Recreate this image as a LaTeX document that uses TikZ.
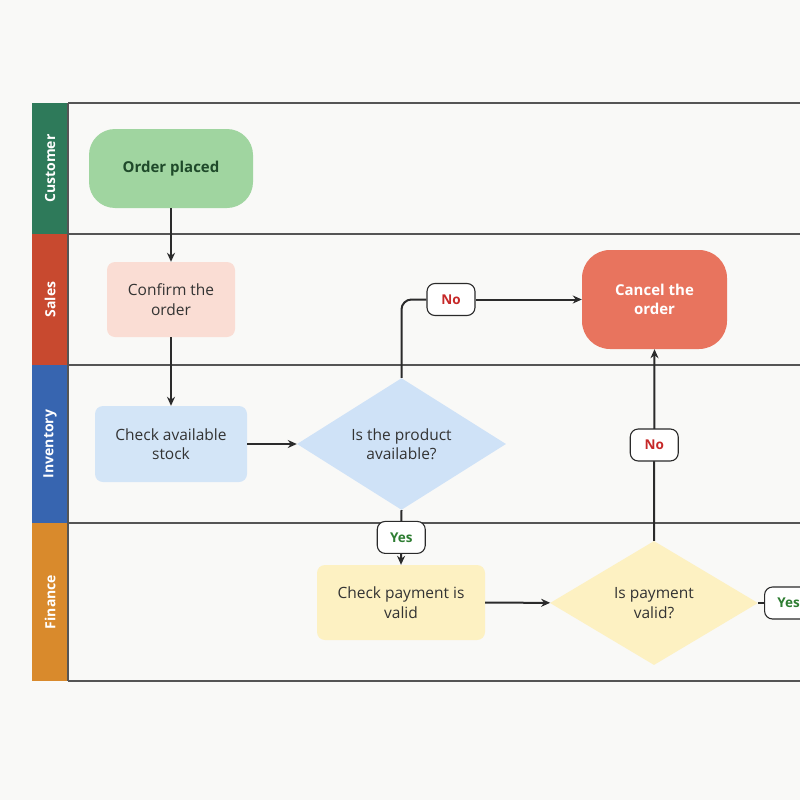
\documentclass[tikz,border=0pt]{standalone}
\usepackage{fontspec}
\setmainfont{Open Sans}
\usetikzlibrary{shapes.geometric,arrows.meta}
\definecolor{bg}{HTML}{F9F9F7}
\definecolor{custc}{HTML}{2E7A5A}
\definecolor{salesc}{HTML}{C8492F}
\definecolor{invc}{HTML}{3765B0}
\definecolor{finc}{HTML}{D98A2C}
\definecolor{greenfill}{HTML}{A0D5A0}
\definecolor{greentext}{HTML}{1F4A2A}
\definecolor{pinkfill}{HTML}{FADDD4}
\definecolor{bluefill}{HTML}{D3E5F7}
\definecolor{bluedia}{HTML}{CFE2F7}
\definecolor{cancelfill}{HTML}{E8745E}
\definecolor{yellowfill}{HTML}{FDF1C2}
\definecolor{textgray}{HTML}{333333}
\definecolor{linec}{HTML}{2B2B2B}
\definecolor{lanec}{HTML}{555555}
\definecolor{nored}{HTML}{C62828}
\definecolor{yesgreen}{HTML}{2E7D32}
\tikzset{
  proc/.style={rectangle, rounded corners=8pt, inner sep=0pt, align=center,
    text=textgray, font={\fontsize{15.5}{19.5}\selectfont}},
  term/.style={rectangle, inner sep=0pt, align=center,
    font={\bfseries\fontsize{15}{19.5}\selectfont}},
  decision/.style={diamond, inner sep=0pt, align=center, text=textgray,
    font={\fontsize{15.5}{19.5}\selectfont}},
  chip/.style={rectangle, rounded corners=8pt, draw=linec, line width=1.1pt,
    fill=white, minimum width=48pt, minimum height=32pt, inner sep=0pt,
    font={\bfseries\fontsize{13.5}{15}\selectfont}},
  conn/.style={draw=linec, line width=2pt},
  arr/.style={conn, -{Stealth[length=9pt,width=8pt]}},
  lanelabel/.style={rotate=90, text=white, font={\bfseries\fontsize{14}{16}\selectfont}},
  laneline/.style={draw=lanec, line width=1.2pt}
}
\begin{document}
\begin{tikzpicture}[x=1pt,y=-1pt]
\useasboundingbox (0,0) rectangle (800,800);
\clip (0,0) rectangle (800,800);
\fill[bg] (0,0) rectangle (800,800);
% lane headers
\fill[custc] (32,103) rectangle (68,234);
\fill[salesc] (32,234) rectangle (68,365);
\fill[invc] (32,365) rectangle (68,523);
\fill[finc] (32,523) rectangle (68,681);
\node[lanelabel] (lcust) at (50,168.5) {Customer};
\node[lanelabel] (lsales) at (50,299.5) {Sales};
\node[lanelabel] (linv) at (50,444) {Inventory};
\node[lanelabel] (lfin) at (50,602) {Finance};
% lane lines
\foreach \yy in {103,234,365,523,681} { \draw[laneline] (68,\yy) -- (800,\yy); }
\draw[laneline] (68,103) -- (68,681);
% nodes
\node[term, fill=greenfill, text=greentext, rounded corners=26pt, minimum width=164pt, minimum height=79pt] (order) at (171,168.5) {Order placed};
\node[proc, fill=pinkfill, minimum width=128pt, minimum height=75pt] (confirm) at (171,299.5) {Confirm the\\order};
\node[proc, fill=bluefill, minimum width=152pt, minimum height=76pt] (stock) at (171,444) {Check available\\stock};
\node[decision, fill=bluedia, minimum width=209pt, minimum height=126pt] (avail) at (401.5,444) {Is the product\\available?};
\node[term, fill=cancelfill, text=white, rounded corners=28pt, minimum width=145pt, minimum height=99pt] (cancel) at (654.5,299.5) {Cancel the\\order};
\node[proc, fill=yellowfill, minimum width=168pt, minimum height=75pt] (payment) at (401,602.5) {Check payment is\\valid};
\node[decision, fill=yellowfill, minimum width=208pt, minimum height=124pt] (valid) at (654,603) {Is payment\\valid?};
% connectors
\draw[arr] (order) -- (confirm);
\draw[arr] (confirm) -- (stock);
\draw[arr] (stock) -- (avail);
\node[chip, text=nored] (no1) at (451,299.5) {No};
\draw[conn, rounded corners=10pt] (avail.north) |- (no1.west);
\draw[arr] (no1.east) -- (cancel.west);
\draw[arr] (avail.south) -- node[chip, text=yesgreen] (yes1) {Yes} (payment.north);
\draw[arr] (payment) -- (valid);
\draw[arr] (valid.north) -- node[chip, text=nored] (no2) {No} (cancel.south);
\node[chip, text=yesgreen, anchor=west] (yes2) at (764,603) {Yes};
\draw[conn] (valid.east) -- (yes2.west);
\end{tikzpicture}
\end{document}
